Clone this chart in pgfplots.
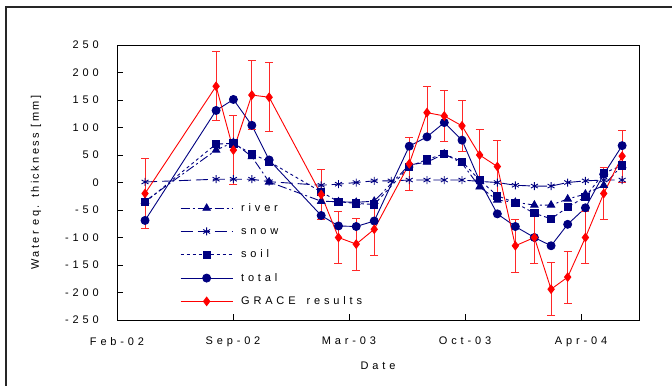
\documentclass[border=0pt]{standalone}
\usepackage{pgfplots}
\pgfplotsset{compat=1.18}
\usepackage{fontspec}
\setmainfont{Liberation Sans}
\newfontfamily\lsp[LetterSpace=35]{Liberation Sans}
\newfontfamily\lspy[LetterSpace=22]{Liberation Sans}
\definecolor{navy}{RGB}{0,0,128}
\definecolor{grred}{RGB}{255,0,0}
\definecolor{errred}{RGB}{255,40,40}
\newcommand{\chartfont}{\lsp\fontsize{11bp}{13bp}\selectfont}
\begin{document}
\begin{tikzpicture}[x=1bp,y=1bp]
\useasboundingbox (0,0) rectangle (672,385);
\draw[line width=1.6bp, black!85] (6,-5) -- (6,378) -- (680,378);
\begin{axis}[
  at={(117bp,65bp)}, anchor=south west,
  scale only axis, width=522bp, height=275bp,
  xmin=0, xmax=4.5, ymin=-250, ymax=250,
  xtick={0,1,2,3,4},
  xticklabels={Feb-02,Sep-02,Mar-03,Oct-03,Apr-04},
  ytick={-250,-200,-150,-100,-50,0,50,100,150,200,250},
  yticklabels={-250,-200,-150,-100,-50,0,50,100,150,200,250},
  xtick pos=left, ytick pos=left,
  tick align=inside, major tick length=6bp,
  tick style={black, line width=0.8bp},
  axis line style={line width=1bp, black},
  ticklabel style={font=\chartfont},
  yticklabel style={anchor=east, inner sep=0pt, xshift=-18bp},
  xticklabel style={anchor=north, inner sep=0pt, yshift=-17bp},
  xlabel={Date}, ylabel={Water eq. thickness [mm]},
  xlabel style={font=\chartfont, at={(axis description cs:0.5,0)}, anchor=center, yshift=-46bp},
  ylabel style={font=\lspy\fontsize{11bp}{13bp}\selectfont, at={(axis description cs:-0.155,0.5)}, anchor=center},
  legend style={at={(axis description cs:0.1207,0.4255)}, anchor=north west,
    draw=none, fill=none, inner sep=0pt, row sep=13.3bp,
    font=\chartfont,
    nodes={inner sep=0pt, text height=8bp, text depth=2bp},
    /tikz/every odd column/.append style={column sep=8bp}},
  legend cell align=left,
  legend image code/.code={\draw[mark repeat=2,mark phase=2,#1] plot coordinates {(0bp,0bp) (26bp,0bp) (52bp,0bp)};},
  every axis plot/.append style={line width=0.9bp},
]
% river
\addplot[navy, dash pattern=on 9bp off 3bp on 2bp off 3bp, mark=triangle*, mark size=4.2bp, mark options={solid, fill=navy}]
coordinates {(0.2416,-34) (0.8542,59) (1.0035,73) (1.1622,47) (1.3115,1) (1.7602,-34) (1.9094,-35) (2.0621,-36) (2.2174,-34) (2.5194,32) (2.6721,37) (2.8214,52) (2.9741,35) (3.1260,-8) (3.2787,-32) (3.4340,-36) (3.5979,-41) (3.7420,-41) (3.8852,-30) (4.0380,-21) (4.1959,-5) (4.3546,31)};
\addlegendentry{river}
% snow
\addplot[navy, dash pattern=on 12bp off 5bp, mark=asterisk, mark size=4bp, mark options={solid}]
coordinates {(0.2416,1) (0.8542,6) (1.0035,6) (1.1622,6) (1.3115,1.5) (1.7602,-5) (1.9094,-3) (2.0621,0) (2.2174,3) (2.3641,3) (2.5194,4.5) (2.6721,4.5) (2.8214,4.5) (2.9741,4.5) (3.1260,2) (3.2787,0) (3.4340,-5) (3.5979,-6.5) (3.7420,-6.5) (3.8852,0) (4.0380,3) (4.1959,4.5) (4.3546,4.5)};
\addlegendentry{snow}
% soil
\addplot[navy, dash pattern=on 3bp off 3bp, mark=square*, mark size=3.6bp, mark options={solid, fill=navy}]
coordinates {(0.2416,-36) (0.8542,70) (1.0035,71) (1.1622,52) (1.3115,38) (1.7602,-17) (1.9094,-35) (2.0621,-38) (2.2174,-40) (2.5194,29) (2.6721,42) (2.8214,52) (2.9741,38) (3.1260,4.5) (3.2787,-24) (3.4340,-37) (3.5979,-56) (3.7420,-66) (3.8852,-45) (4.0380,-26) (4.1959,17) (4.3546,31)};
\addlegendentry{soil}
% total
\addplot[navy, solid, mark=*, mark size=4bp, mark options={solid, fill=navy}]
coordinates {(0.2416,-69) (0.8542,131) (1.0035,151) (1.1622,104) (1.3115,41) (1.7602,-60) (1.9094,-79) (2.0621,-80) (2.2174,-70) (2.5194,66) (2.6721,83) (2.8214,109) (2.9741,77) (3.1260,3) (3.2787,-57) (3.4340,-80) (3.5979,-100) (3.7420,-115) (3.8852,-76) (4.0380,-46) (4.1959,15) (4.3546,67)};
\addlegendentry{total}
% GRACE
\addplot[grred, solid, mark=diamond*, mark size=4.2bp, mark options={solid, fill=grred},
  error bars/.cd, y dir=both, y explicit,
  error bar style={errred, line width=0.9bp, solid},
  error mark options={rotate=90, errred, mark size=4bp, line width=0.9bp}]
coordinates {
(0.2416,-20) +- (0,63)
(0.8542,175) +- (0,63)
(1.0035,59) +- (0,63)
(1.1622,159) +- (0,63)
(1.3115,155) +- (0,63)
(1.7602,-22) +- (0,46)
(1.9094,-100) +- (0,47)
(2.0621,-112) +- (0,47)
(2.2174,-85) +- (0,48)
(2.5194,34) +- (0,48)
(2.6721,127) +- (0,47)
(2.8214,121) +- (0,47)
(2.9741,103) +- (0,47)
(3.1260,50) +- (0,47)
(3.2787,29) +- (0,47)
(3.4340,-115) +- (0,48)
(3.5979,-100) +- (0,47)
(3.7420,-194) +- (0,48)
(3.8852,-172) +- (0,47)
(4.0380,-100) +- (0,48)
(4.1959,-20) +- (0,48)
(4.3546,48) +- (0,47)};
\addlegendentry{GRACE\hspace{4bp} results}
\end{axis}
\end{tikzpicture}
\end{document}
